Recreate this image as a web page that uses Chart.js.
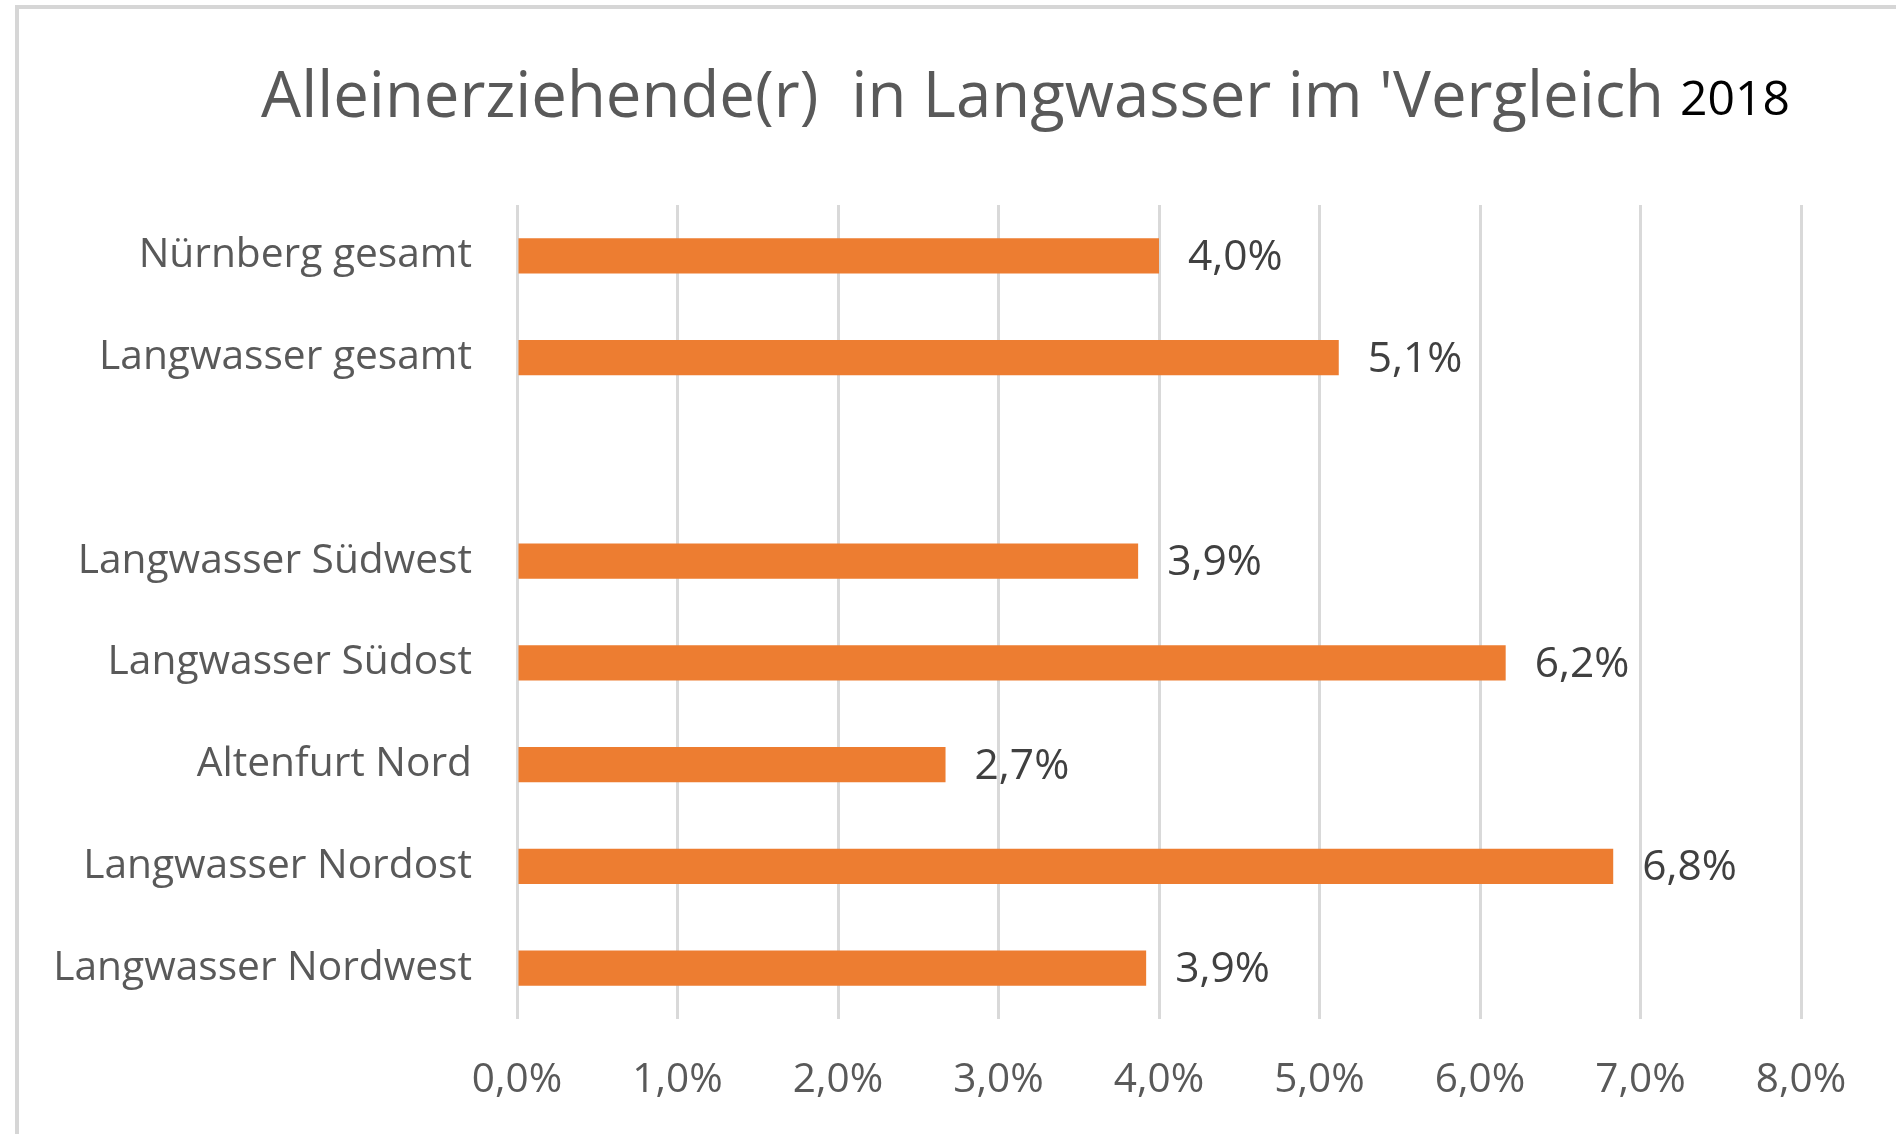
<!DOCTYPE html>
<html lang="de">
<head>
<meta charset="utf-8">
<title>Alleinerziehende(r) in Langwasser im Vergleich 2018</title>
<script src="https://cdn.jsdelivr.net/npm/chart.js@4/dist/chart.umd.min.js"></script>
<style>
    html, body { margin: 0; padding: 0; background: #fff; }
    #frame {
        position: absolute;
        left: 15px;
        top: 5px;
        width: 1881px;
        height: 1129px;
        border-left: 4px solid #d6d6d6;
        border-top: 4px solid #d6d6d6;
        box-sizing: border-box;
    }
    #wrap {
        position: absolute;
        left: 0;
        top: 0;
        width: 1896px;
        height: 1134px;
    }
</style>
</head>
<body>
<div id="frame"></div>
<div id="wrap"><canvas id="chart"></canvas></div>
<script>
(function() {
    'use strict';

    // Data (percent)
    const categories = [
        'Nürnberg gesamt',
        'Langwasser gesamt',
        '',
        'Langwasser Südwest',
        'Langwasser Südost',
        'Altenfurt Nord',
        'Langwasser Nordost',
        'Langwasser Nordwest'
    ];
    const shares = [4.0, 5.12, null, 3.87, 6.16, 2.67, 6.83, 3.92];
    const xTicks = [0, 1, 2, 3, 4, 5, 6, 7, 8];

    const titleMain = "Alleinerziehende(r)  in Langwasser im 'Vergleich";
    const titleYear = '2018';

    const FONT = '"Open Sans", "Noto Sans", sans-serif';

    function formatPct(v) {
        return v.toFixed(1).replace('.', ',') + '%';
    }

    /**
     * Title with a second, differently styled part
     */
    const titlePlugin = {
        id: 'splitTitle',
        afterDraw(chart) {
            const ctx = chart.ctx;
            ctx.save();
            ctx.textBaseline = 'alphabetic';
            ctx.textAlign = 'left';
            ctx.font = '63.5px ' + FONT;
            ctx.fillStyle = '#595959';
            ctx.fillText(titleMain, 261, 117);
            const w = ctx.measureText(titleMain).width;
            ctx.font = '48px ' + FONT;
            ctx.fillStyle = '#000000';
            ctx.fillText(titleYear, 261 + w + 16, 115);
            ctx.restore();
        }
    };

    /**
     * Value labels at the end of each bar
     */
    const valueLabelPlugin = {
        id: 'valueLabels',
        afterDatasetsDraw(chart) {
            const ctx = chart.ctx;
            const meta = chart.getDatasetMeta(0);
            ctx.save();
            ctx.font = '42.5px ' + FONT;
            ctx.fillStyle = '#404040';
            ctx.textAlign = 'left';
            ctx.textBaseline = 'middle';
            meta.data.forEach((bar, i) => {
                const v = shares[i];
                if (v === null || v === undefined) return;
                ctx.fillText(formatPct(Math.round(v * 10) / 10), bar.x + 29, bar.y + 2);
            });
            ctx.restore();
        }
    };

    document.addEventListener('DOMContentLoaded', function() {
        const ctx = document.getElementById('chart');

        new Chart(ctx, {
            type: 'bar',
            data: {
                labels: categories,
                datasets: [{
                    data: shares,
                    backgroundColor: '#ED7D31',
                    borderWidth: 0,
                    barPercentage: 0.345,
                    categoryPercentage: 1.0
                }]
            },
            options: {
                indexAxis: 'y',
                responsive: true,
                maintainAspectRatio: false,
                animation: false,
                layout: {
                    padding: { top: 205, right: 95, bottom: 0, left: 0 }
                },
                plugins: {
                    legend: { display: false },
                    title: { display: false },
                    tooltip: { enabled: false }
                },
                scales: {
                    x: {
                        type: 'linear',
                        min: xTicks[0],
                        max: xTicks[xTicks.length - 1],
                        afterBuildTicks: function(scale) {
                            scale.ticks = xTicks.map(v => ({ value: v }));
                        },
                        afterFit: function(scale) {
                            scale.height = 115;
                        },
                        border: { display: false },
                        grid: {
                            color: '#d9d9d9',
                            lineWidth: 3,
                            drawTicks: false
                        },
                        ticks: {
                            padding: 37,
                            maxRotation: 0,
                            autoSkip: false,
                            color: '#595959',
                            font: { family: FONT, size: 40.5 },
                            callback: function(value) {
                                return formatPct(value);
                            }
                        }
                    },
                    y: {
                        type: 'category',
                        afterFit: function(scale) {
                            scale.width = 517;
                        },
                        border: { display: false },
                        grid: { display: false, drawTicks: false },
                        ticks: {
                            padding: 45,
                            autoSkip: false,
                            color: '#595959',
                            font: { family: FONT, size: 40.7 }
                        }
                    }
                }
            },
            plugins: [valueLabelPlugin, titlePlugin]
        });
    });
})();
</script>
</body>
</html>
